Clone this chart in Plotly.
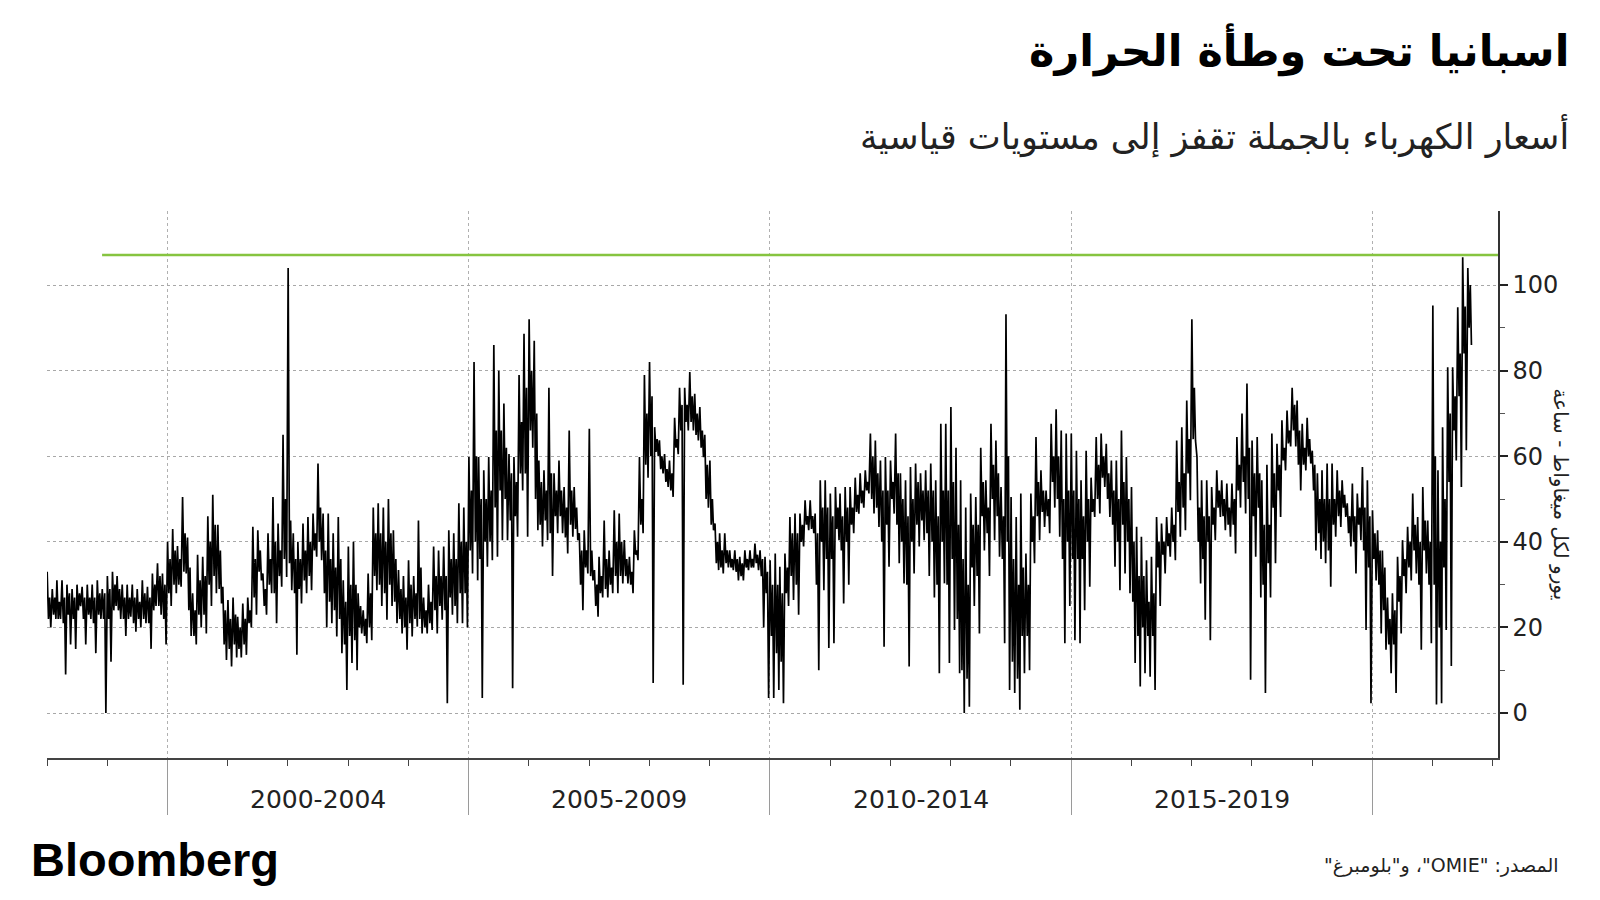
import pandas as pd
import plotly.graph_objects as go

# ---- data (EUR/MWh) ----
months = pd.date_range("1998-01-01", "2021-08-01", freq="MS")

# monthly extreme readings (spikes included)
monthly_high = [
    33, 29, 31, 31, 30, 29, 30, 29.5, 30, 30, 31, 29,            # 1998
    32, 33, 32, 30, 30, 30, 29, 31, 29.5, 32.6, 35, 32.6,        # 1999
    40, 43, 39, 50.5, 41, 28, 37, 36.5, 46, 51, 44, 29.5,        # 2000
    26.4, 27, 22.5, 25.6, 27, 43.5, 42.7, 32.6, 42, 50.5, 44.3, 65,  # 2001
    104, 42, 40, 44.3, 45.8, 46.6, 58.3, 46.6, 46.6, 42, 45.8, 31,   # 2002
    38.9, 40, 28, 24, 32.6, 48, 49, 48, 50, 42.7, 33.4, 32,      # 2003
    35.7, 32, 45, 27, 30, 38.9, 38, 38.9, 42.7, 42, 49, 48,      # 2004
    59.8, 82, 59.8, 56.7, 59.8, 86, 80, 72.3, 60.5, 59.8, 79, 88.6,  # 2005
    92, 87, 59, 56.7, 76, 56, 59, 52.8, 66, 52.8, 42, 42.7,      # 2006
    66.4, 33.4, 36.5, 45, 38, 47.4, 46.6, 40.4, 36.5, 42.7, 59.8, 79,  # 2007
    82, 66.8, 63.7, 60.5, 59, 69, 76, 76, 79.7, 74.6, 71.5, 65,  # 2008
    59, 44.3, 42, 42, 38, 38, 36.5, 38, 38, 39.6, 38, 36.5,      # 2009
    35.7, 37.3, 34.2, 37.3, 45.8, 46.6, 46.6, 49.7, 49.7, 46.6, 54.4, 54.4,  # 2010
    51.3, 52.8, 51.3, 52.8, 52.8, 55, 56, 56.7, 65.3, 63.7, 59, 59.8,  # 2011
    59, 65.3, 56, 54.4, 57.5, 58.3, 56, 56.7, 58.3, 54.4, 67.6, 67.6,  # 2012
    71.5, 62, 54.4, 48, 51.3, 50.5, 62, 54.4, 67.6, 63.7, 52.8, 93.2,  # 2013
    50.5, 45.8, 51.3, 37.3, 51.3, 64.5, 56.7, 52, 67.6, 71, 66, 65.3,  # 2014
    65.3, 61.3, 54.4, 61.3, 55, 64.5, 65.3, 62.9, 59, 59, 66, 59.8,    # 2015
    52.8, 43.5, 41.2, 35.7, 36.5, 45.8, 44.3, 45.8, 48, 63.7, 66.8, 73,  # 2016
    92, 59.8, 54.4, 54.4, 52.8, 56.7, 54.4, 53.6, 53.6, 64.5, 70, 77,  # 2017
    63.7, 64.5, 54.4, 58, 65.3, 62.9, 68.4, 70.7, 76, 73, 67.6, 69,    # 2018
    61.3, 56, 56.7, 58.3, 58.3, 56.7, 54.4, 49, 53.6, 51.3, 57.5, 54.4,  # 2019
    47.4, 42.7, 38, 27, 28, 36.5, 40.4, 43.5, 51.3, 45.8, 52.8, 45,    # 2020
    95.2, 56.7, 66.8, 80.8, 80.8, 94.8, 106.5, 104,                  # 2021
]

monthly_low = [
    20, 22, 22, 9, 16, 15, 25, 16, 22, 14, 22, 0,                # 1998
    12, 25, 22, 18, 22.5, 19, 20, 21, 15, 25, 23, 16,            # 1999
    25, 28, 29.5, 32.6, 18, 16, 20, 18.6, 25, 28, 25.6, 12.4,    # 2000
    10.9, 13, 13, 13.6, 20, 23, 31, 23, 28, 21, 29.5, 31.8,      # 2001
    28.7, 13.6, 25.6, 28, 28.7, 36.5, 35.7, 20, 21, 17.9, 14, 5.4,  # 2002
    11.7, 10, 18.6, 16.3, 17, 28.7, 25, 21.8, 25, 21, 18.6, 14.8,   # 2003
    17.9, 20.2, 18.6, 18.6, 19.4, 18.6, 21.8, 2.3, 23, 21, 21, 20,  # 2004
    32.6, 31, 3.5, 34.2, 35.7, 36.5, 40.4, 40.4, 5.8, 41.2, 52, 41.2,  # 2005
    62, 42.7, 38.9, 40.4, 32, 42, 42, 37.3, 41.2, 40.4, 24, 32.6,   # 2006
    31, 22.5, 27, 27, 28, 28, 30.3, 30.3, 28, 35.7, 42, 55,      # 2007
    7, 60, 56, 52.8, 50.5, 60.5, 6.6, 66, 66, 63.7, 59.8, 48,    # 2008
    42.7, 33.4, 32.6, 34, 33.4, 31, 31, 33.4, 34, 33.4, 20, 3.5,  # 2009
    3.5, 5.4, 2.3, 25, 26.4, 23, 38.9, 42.7, 42, 10, 28.7, 15.2,  # 2010
    16.3, 40.4, 25.6, 30, 42, 46.6, 48, 51.3, 46.6, 43.5, 15.5, 34.2,  # 2011
    46.6, 35, 30.3, 10.9, 32.6, 38.9, 40.4, 32, 27, 9.3, 30.3, 11.7,   # 2012
    19.4, 9.3, 0, 1.5, 25, 18.6, 38, 32, 40.4, 36.5, 16.3, 5.4,  # 2013
    4.7, 0.8, 9.3, 10, 35, 40.4, 43.5, 42, 48, 41.2, 16.3, 25,   # 2014
    17, 16.3, 24, 29.5, 45.8, 46.6, 52.8, 45.8, 34.2, 28.7, 32.6, 28,  # 2015
    11.7, 6.2, 9.3, 8.5, 5.4, 25, 32.6, 36.5, 35.7, 41.2, 42.7, 49.7,  # 2016
    63.7, 30.3, 21.8, 17, 40.4, 45.8, 42.7, 41.2, 37.3, 48, 46.6, 7.8,  # 2017
    36.5, 27, 4.7, 27, 35, 45.8, 56.7, 62.3, 62.3, 52, 56.7, 58.3,     # 2018
    38, 36, 35, 29.5, 41.2, 43.5, 45.8, 38.9, 32.6, 40.4, 19.4, 2.3,   # 2019
    31, 18.6, 14.8, 9.3, 4.7, 18.6, 28, 31, 32.6, 14.8, 32.6, 16.3,    # 2020
    2, 2.3, 19.4, 11, 59, 52.8, 61.4, 86,                             # 2021
]

# the dense "typical" band of each month
typical_high = [
    27, 27, 26, 27, 28, 27, 28, 27, 27, 27, 28, 28,      # 1998
    29, 30, 29, 27, 27, 27, 26, 28, 27, 30, 32, 30,      # 1999
    36, 38, 36, 42, 34, 24, 31, 32, 40, 44, 38, 24,      # 2000
    22, 23, 20, 22, 24, 36, 38, 29, 36, 40, 38, 50,      # 2001
    45, 36, 36, 38, 40, 42, 48, 38, 36, 34, 36, 26,      # 2002
    30, 30, 25, 22, 28, 42, 42, 40, 42, 36, 29, 27,      # 2003
    30, 28, 34, 24, 26, 32, 32, 32, 36, 36, 40, 40,      # 2004
    52, 60, 50, 50, 52, 66, 66, 62, 56, 54, 68, 76,      # 2005
    80, 70, 54, 52, 56, 52, 52, 48, 52, 48, 38, 38,      # 2006
    38, 30, 32, 36, 34, 40, 40, 36, 33, 38, 50, 70,      # 2007
    74, 64, 60, 57, 56, 64, 72, 72, 74, 70, 66, 58,      # 2008
    50, 40, 38, 38, 36, 36, 35, 36, 36, 37, 36, 33,      # 2009
    30, 30, 28, 34, 42, 42, 44, 46, 46, 42, 48, 48,      # 2010
    46, 48, 46, 48, 48, 51, 52, 54, 60, 56, 52, 52,      # 2011
    54, 56, 50, 46, 50, 54, 52, 52, 52, 46, 52, 52,      # 2012
    54, 44, 36, 30, 44, 44, 54, 48, 58, 56, 46, 60,      # 2013
    36, 30, 34, 30, 46, 54, 52, 50, 60, 60, 50, 52,      # 2014
    52, 50, 46, 50, 50, 58, 60, 56, 52, 50, 54, 50,      # 2015
    40, 32, 32, 26, 28, 40, 40, 42, 44, 54, 56, 64,      # 2016
    76, 48, 46, 46, 48, 52, 50, 48, 50, 58, 60, 62,      # 2017
    56, 56, 44, 44, 56, 58, 62, 66, 72, 66, 62, 64,      # 2018
    58, 50, 50, 50, 50, 52, 51, 46, 46, 48, 48, 46,      # 2019
    42, 38, 34, 22, 24, 32, 36, 40, 44, 40, 45, 40,      # 2020
    60, 40, 50, 70, 74, 84, 95, 100,                     # 2021
]

typical_low = [
    22, 23, 22, 21, 23, 22, 24, 22, 23, 21, 23, 22,      # 1998
    22, 24, 24, 22, 22, 21, 22, 22, 21, 24, 25, 22,      # 1999
    28, 30, 30, 33, 24, 18, 23, 23, 30, 32, 29, 16,      # 2000
    15, 16, 15, 16, 21, 27, 33, 25, 30, 28, 32, 36,      # 2001
    35, 28, 29, 31, 32, 38, 40, 28, 26, 24, 22, 16,      # 2002
    18, 17, 20, 18, 20, 32, 30, 28, 30, 26, 22, 20,      # 2003
    21, 22, 22, 20, 21, 24, 25, 24, 27, 25, 28, 28,      # 2004
    38, 40, 36, 40, 40, 48, 52, 50, 45, 46, 56, 56,      # 2005
    66, 50, 44, 45, 42, 46, 46, 41, 44, 43, 30, 34,      # 2006
    32, 25, 28, 29, 30, 32, 32, 32, 30, 37, 44, 58,      # 2007
    60, 61, 57, 54, 52, 62, 66, 68, 68, 65, 62, 50,      # 2008
    44, 35, 34, 35, 34, 33, 32, 34, 34, 35, 32, 28,      # 2009
    18, 14, 12, 28, 32, 30, 40, 44, 43, 30, 40, 36,      # 2010
    36, 43, 38, 40, 44, 47, 49, 52, 50, 48, 40, 44,      # 2011
    50, 44, 40, 30, 40, 44, 45, 42, 40, 30, 40, 30,      # 2012
    36, 22, 10, 8, 34, 32, 46, 42, 50, 46, 36, 40,       # 2013
    12, 8, 18, 18, 40, 46, 47, 46, 54, 50, 36, 40,       # 2014
    36, 36, 36, 40, 47, 50, 55, 50, 44, 40, 44, 40,      # 2015
    26, 18, 20, 18, 18, 34, 37, 39, 40, 47, 48, 56,      # 2016
    64, 40, 36, 40, 44, 48, 46, 44, 44, 52, 54, 50,      # 2017
    46, 48, 30, 35, 48, 52, 59, 63, 66, 58, 58, 60,      # 2018
    52, 42, 40, 38, 44, 46, 48, 42, 40, 44, 38, 34,      # 2019
    36, 30, 24, 16, 16, 26, 32, 34, 38, 30, 38, 30,      # 2020
    30, 20, 34, 54, 66, 74, 84, 90,                      # 2021
]

record_level = 107
record_start = "1998-12-01"
axis_start = "1998-01-01"
axis_end = "2022-02-01"

period_labels = ["2000-2004", "2005-2009", "2010-2014", "2015-2019"]
period_centers = ["2002-07-02", "2007-07-02", "2012-07-02", "2017-07-02"]
period_bounds = ["2000-01-01", "2005-01-01", "2010-01-01", "2015-01-01", "2020-01-01"]

y_ticks = [0, 20, 40, 60, 80, 100]
y_minor = [10, 30, 50, 70, 90]

title = "اسبانيا تحت وطأة الحرارة"
subtitle = "أسعار الكهرباء بالجملة تقفز إلى مستويات قياسية"
y_title = "يورو لكل ميغاواط - ساعة"
source = 'المصدر: "OMIE"، و"بلومبرغ"'

RLE, PDF = "\u202b", "\u202c"

# ---- build the series: four readings per month ----
xs, ys = [], []
for m, hi, tl, th, lo in zip(months, monthly_high, typical_low, typical_high, monthly_low):
    for d, v in ((1, hi), (9, tl), (16, th), (23, lo)):
        xs.append(m + pd.Timedelta(days=d))
        ys.append(v)

fig = go.Figure()
fig.add_trace(go.Scatter(
    x=[record_start, axis_end], y=[record_level, record_level],
    mode="lines", line=dict(color="#86c440", width=2.5),
    hoverinfo="skip", showlegend=False,
))
fig.add_trace(go.Scatter(
    x=xs, y=ys, mode="lines",
    line=dict(color="#000000", width=1.7),
    showlegend=False,
))

ar_font = "DejaVu Sans"

# page has an 8px body margin: figure is 1592x892, plot area at page px 47..1498 x 211..758
fig.update_layout(
    width=1592, height=892,
    paper_bgcolor="white", plot_bgcolor="white",
    margin=dict(l=39, r=102, t=203, b=142),
    showlegend=False,
    xaxis=dict(
        type="date",
        range=[axis_start, axis_end],
        tickmode="array", tickvals=period_bounds,
        ticktext=[""] * len(period_bounds),
        ticks="outside", ticklen=55, tickwidth=1, tickcolor="#9a9a9a",
        showgrid=True, gridcolor="#b0b0b0", gridwidth=1, griddash="dot",
        showline=True, linecolor="#444444", linewidth=1.5,
        zeroline=False,
        minor=dict(tickmode="linear", tick0="1999-01-01", dtick="M12",
                   ticks="outside", ticklen=6, tickwidth=1, tickcolor="#444444",
                   showgrid=False),
    ),
    yaxis=dict(
        side="right",
        range=[-10.5, 117.3],
        tickmode="array", tickvals=y_ticks,
        ticks="outside", ticklen=8, tickwidth=2, tickcolor="#222222",
        tickfont=dict(family="DejaVu Sans", size=24, color="#222222"),
        showgrid=True, gridcolor="#a8a8a8", gridwidth=1, griddash="dot",
        showline=True, linecolor="#333333", linewidth=1.5,
        zeroline=False,
        minor=dict(tickmode="array", tickvals=y_minor,
                   ticks="outside", ticklen=5, tickwidth=1, tickcolor="#555555",
                   showgrid=False),
    ),
)

ann = []
for lab, c in zip(period_labels, period_centers):
    ann.append(dict(x=c, xref="x", y=-0.075, yref="paper", text=lab,
                    showarrow=False, xanchor="center", yanchor="middle",
                    font=dict(family="DejaVu Sans", size=25, color="#222222")))

ann += [
    dict(x=1.05, xref="paper", y=1.294, yref="paper", text=RLE + title + PDF,
         showarrow=False, xanchor="right", yanchor="middle",
         font=dict(family=ar_font, size=43, color="#000000", weight="bold")),
    dict(x=1.05, xref="paper", y=1.137, yref="paper", text=RLE + subtitle + PDF,
         showarrow=False, xanchor="right", yanchor="middle",
         font=dict(family=ar_font, size=35, color="#222222")),
    dict(x=1.0434, xref="paper", y=0.482, yref="paper", text=RLE + y_title + PDF,
         showarrow=False, xanchor="center", yanchor="middle", textangle=90,
         font=dict(family=ar_font, size=20, color="#222222")),
    dict(x=1.0434, xref="paper", y=-0.197, yref="paper", text=RLE + source + PDF,
         showarrow=False, xanchor="right", yanchor="middle",
         font=dict(family=ar_font, size=19, color="#222222")),
    dict(x=-0.0124, xref="paper", y=-0.186, yref="paper", text="<b>Bloomberg</b>",
         showarrow=False, xanchor="left", yanchor="middle",
         font=dict(family="Liberation Sans", size=47, color="#000000")),
]
fig.update_layout(annotations=ann)

fig.write_html("out.html")
